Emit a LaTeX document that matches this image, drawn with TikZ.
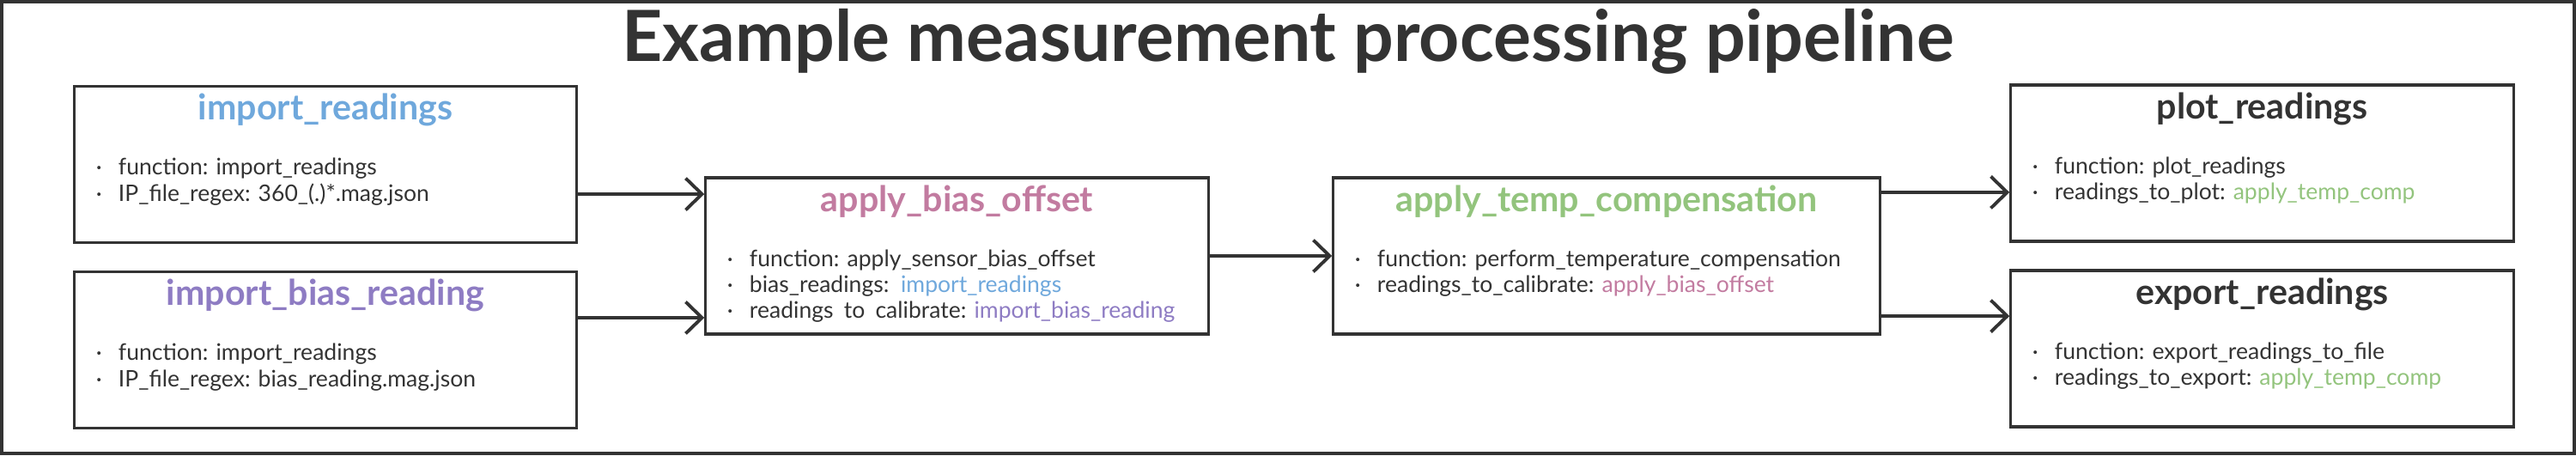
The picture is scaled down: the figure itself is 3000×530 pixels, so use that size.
\documentclass[tikz,border=0pt]{standalone}
\usepackage{fontspec}
\setmainfont{Lato}
\usetikzlibrary{arrows.meta}

\definecolor{ink}{HTML}{333333}
\definecolor{impblue}{HTML}{6FA8DC}
\definecolor{biaspurple}{HTML}{8E7CC3}
\definecolor{offsetpink}{HTML}{C27BA0}
\definecolor{tempgreen}{HTML}{93C47D}

\newcommand{\itm}{\makebox[0.26cm][l]{\textperiodcentered}}
\newcommand{\steplist}[1]{\begin{tabular}[t]{@{}l@{}}#1\end{tabular}}

\begin{document}
\begin{tikzpicture}[
  x=0.01cm, y=-0.01cm,
  every node/.style={text=ink, inner sep=0pt},
  stage/.style={
    draw=ink,
    line width=0.9pt,
    minimum height=1.82cm,
    inner sep=0pt
  },
  stagetitle/.style={anchor=base, font=\bfseries\fontsize{11.7}{13}\selectfont},
  stagebody/.style={anchor=base west, font=\fontsize{7.55}{8.6}\selectfont},
  flow/.style={-{Straight Barb[length=5.4pt,width=10.5pt]}, line width=1.1pt, draw=ink}
]
\useasboundingbox (0,0) rectangle (3000,530);
\draw[ink, line width=1.14pt] (2,2) rectangle (2998,528);

\node[anchor=base, font=\bfseries\fontsize{23.4}{28}\selectfont] (heading) at (1500,71)
  {Example measurement processing pipeline};

% inputs
\node[stage, minimum width=5.84cm] (imp) at (379,191.5) {};
\node[stagetitle, text=impblue] (imp-title) at ([yshift=-0.41cm]imp.north) {import\_readings};
\node[stagebody] (imp-body) at ([shift={(0.26cm,-1.05cm)}]imp.north west)
  {\steplist{\itm function: import\_readings\\ \itm IP\_file\_regex: 360\_(.)*.mag.json}};

\node[stage, minimum width=5.84cm] (impbias) at (379,407.5) {};
\node[stagetitle, text=biaspurple] (impbias-title) at ([yshift=-0.41cm]impbias.north) {import\_bias\_reading};
\node[stagebody] (impbias-body) at ([shift={(0.26cm,-1.05cm)}]impbias.north west)
  {\steplist{\itm function: import\_readings\\ \itm IP\_file\_regex: bias\_reading.mag.json}};

% processing
\node[stage, minimum width=5.85cm] (bias) at (1114.5,298) {};
\node[stagetitle, text=offsetpink] (bias-title) at ([yshift=-0.41cm]bias.north) {apply\_bias\_offset};
\node[stagebody] (bias-body) at ([shift={(0.26cm,-1.05cm)}]bias.north west)
  {\steplist{\itm function: apply\_sensor\_bias\_offset\\
    \itm bias\_readings:\ \ \textcolor{impblue}{import\_readings}\\
    \itm readings\phantom{\_}to\phantom{\_}calibrate: \textcolor{biaspurple}{import\_bias\_reading}}};

\node[stage, minimum width=6.36cm] (temp) at (1871,298) {};
\node[stagetitle, text=tempgreen] (temp-title) at ([yshift=-0.41cm]temp.north) {apply\_temp\_compensation};
\node[stagebody] (temp-body) at ([shift={(0.26cm,-1.05cm)}]temp.north west)
  {\steplist{\itm function: perform\_temperature\_compensation\\
    \itm readings\_to\_calibrate: \textcolor{offsetpink}{apply\_bias\_offset}}};

% outputs
\node[stage, minimum width=5.85cm] (plot) at (2634.5,190) {};
\node[stagetitle] (plot-title) at ([yshift=-0.41cm]plot.north) {plot\_readings};
\node[stagebody] (plot-body) at ([shift={(0.26cm,-1.05cm)}]plot.north west)
  {\steplist{\itm function: plot\_readings\\
    \itm readings\_to\_plot: \textcolor{tempgreen}{apply\_temp\_comp}}};

\node[stage, minimum width=5.85cm] (export) at (2634.5,406) {};
\node[stagetitle] (export-title) at ([yshift=-0.41cm]export.north) {export\_readings};
\node[stagebody] (export-body) at ([shift={(0.26cm,-1.05cm)}]export.north west)
  {\steplist{\itm function: export\_readings\_to\_file\\
    \itm readings\_to\_export: \textcolor{tempgreen}{apply\_temp\_comp}}};

\draw[flow] ([yshift=-0.345cm]imp.east) coordinate (f1) -- (f1 -| bias.west);
\draw[flow] ([yshift=0.375cm]impbias.east) coordinate (f2) -- (f2 -| bias.west);
\draw[flow] (bias.east) -- (temp.west);
\draw[flow] ([yshift=0.74cm]temp.east) coordinate (f3) -- (f3 -| plot.west);
\draw[flow] ([yshift=-0.70cm]temp.east) coordinate (f4) -- (f4 -| export.west);
\end{tikzpicture}
\end{document}
